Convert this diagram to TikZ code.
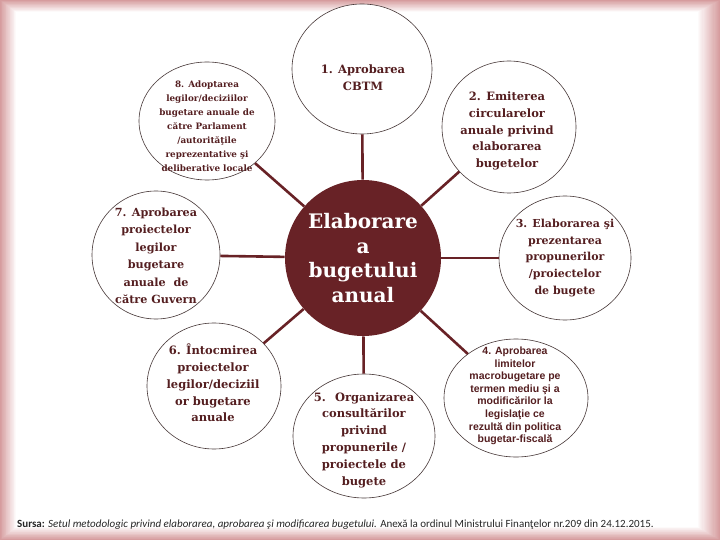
\documentclass[tikz,border=0pt]{standalone}
\usepackage{fontspec}
\setmainfont{DejaVu Serif}
\newfontfamily\capfont{Carlito}
\newfontfamily\arialfont{Liberation Sans}
\usetikzlibrary{shapes.geometric}
\definecolor{framepink}{RGB}{214,156,158}
\definecolor{maroon}{RGB}{104,34,38}
\definecolor{txtm}{RGB}{84,30,32}
\definecolor{ringc}{RGB}{70,55,55}
\begin{document}
\begin{tikzpicture}[x=1pt,y=-1pt,
  bub/.style={ellipse,draw=ringc,line width=0.6pt,fill=white,inner sep=0pt},
  lbl/.style={align=center,text=txtm,inner sep=0pt,font=\bfseries\fontsize{11.5}{16.8}\selectfont},
  spoke/.style={draw=maroon,line width=2.6pt}]
\useasboundingbox (0,0) rectangle (720,540);
\foreach \i in {0,...,20}{
  \pgfmathtruncatemacro\p{100-\i*5}
  \fill[framepink!\p!white] (\i*0.8,\i*0.6) rectangle (720-\i*1.1,540-\i*0.65);
}
\fill[white] (16,12) rectangle (698,527);
% bubbles
\node[bub,minimum width=156pt,minimum height=156pt,fill=maroon,draw=none] (c) at (363,258) {};
\node[bub,minimum width=140pt,minimum height=130pt] (b1) at (362,69) {};
\node[bub,minimum width=134pt,minimum height=132pt] (b2) at (509,127) {};
\node[bub,minimum width=132pt,minimum height=124pt] (b3) at (565,258) {};
\node[bub,minimum width=144pt,minimum height=118pt] (b4) at (516,398) {};
\node[bub,minimum width=142pt,minimum height=124pt] (b5) at (364,436) {};
\node[bub,minimum width=134pt,minimum height=126pt] (b6) at (214,386) {};
\node[bub,minimum width=128pt,minimum height=128pt] (b7) at (156,255) {};
\node[bub,minimum width=136pt,minimum height=118pt] (b8) at (207,121) {};
% spokes
\foreach \b in {b1,b2,b3,b4,b5,b6,b7,b8}{ \draw[spoke] (c) -- (\b); }
% texts
\node[lbl,text=white,font=\bfseries\fontsize{20}{24.5}\selectfont] (tc) at (363,258) {Elaborare\\a\\bugetului\\anual};
\node[lbl] (t1) at (363,78) {1. Aprobarea\\CBTM};
\node[lbl] (t2) at (507,131) {2. Emiterea\\circularelor\\anuale privind\\elaborarea\\bugetelor};
\node[lbl,font=\bfseries\fontsize{11}{16.8}\selectfont] (t3) at (565,258) {3. Elaborarea şi\\prezentarea\\propunerilor\\/proiectelor\\de bugete};
\node[lbl,font=\arialfont\bfseries\fontsize{10.5}{12.6}\selectfont] (t4) at (515,396) {4. Aprobarea\\limitelor\\macrobugetare pe\\termen mediu şi a\\modificărilor la\\legislaţie ce\\rezultă din politica\\bugetar-fiscală};
\node[lbl] (t5) at (364,440) {5.~ Organizarea\\consultărilor\\privind\\propunerile /\\proiectele de\\bugete};
\node[lbl] (t6) at (213,383) {6. Întocmirea\\proiectelor\\legilor/deciziil\\or bugetare\\anuale};
\node[lbl,font=\bfseries\fontsize{11.2}{17.5}\selectfont] (t7) at (156,256) {7. Aprobarea\\proiectelor\\legilor\\bugetare\\anuale~ de\\către Guvern};
\node[lbl,font=\bfseries\fontsize{8.8}{14}\selectfont] (t8) at (207,126) {8. Adoptarea\\legilor/deciziilor\\bugetare anuale de\\către Parlament\\/autorităţile\\reprezentative şi\\deliberative locale};
% caption
\node[anchor=west,inner sep=0pt,text=black!85,font=\capfont\fontsize{11}{13}\selectfont] (cap) at (17,525) {\textbf{Sursa:} \textit{Setul metodologic privind elaborarea, aprobarea şi modificarea bugetului.} Anexă la ordinul Ministrului Finanţelor nr.209 din 24.12.2015.};
\end{tikzpicture}
\end{document}
